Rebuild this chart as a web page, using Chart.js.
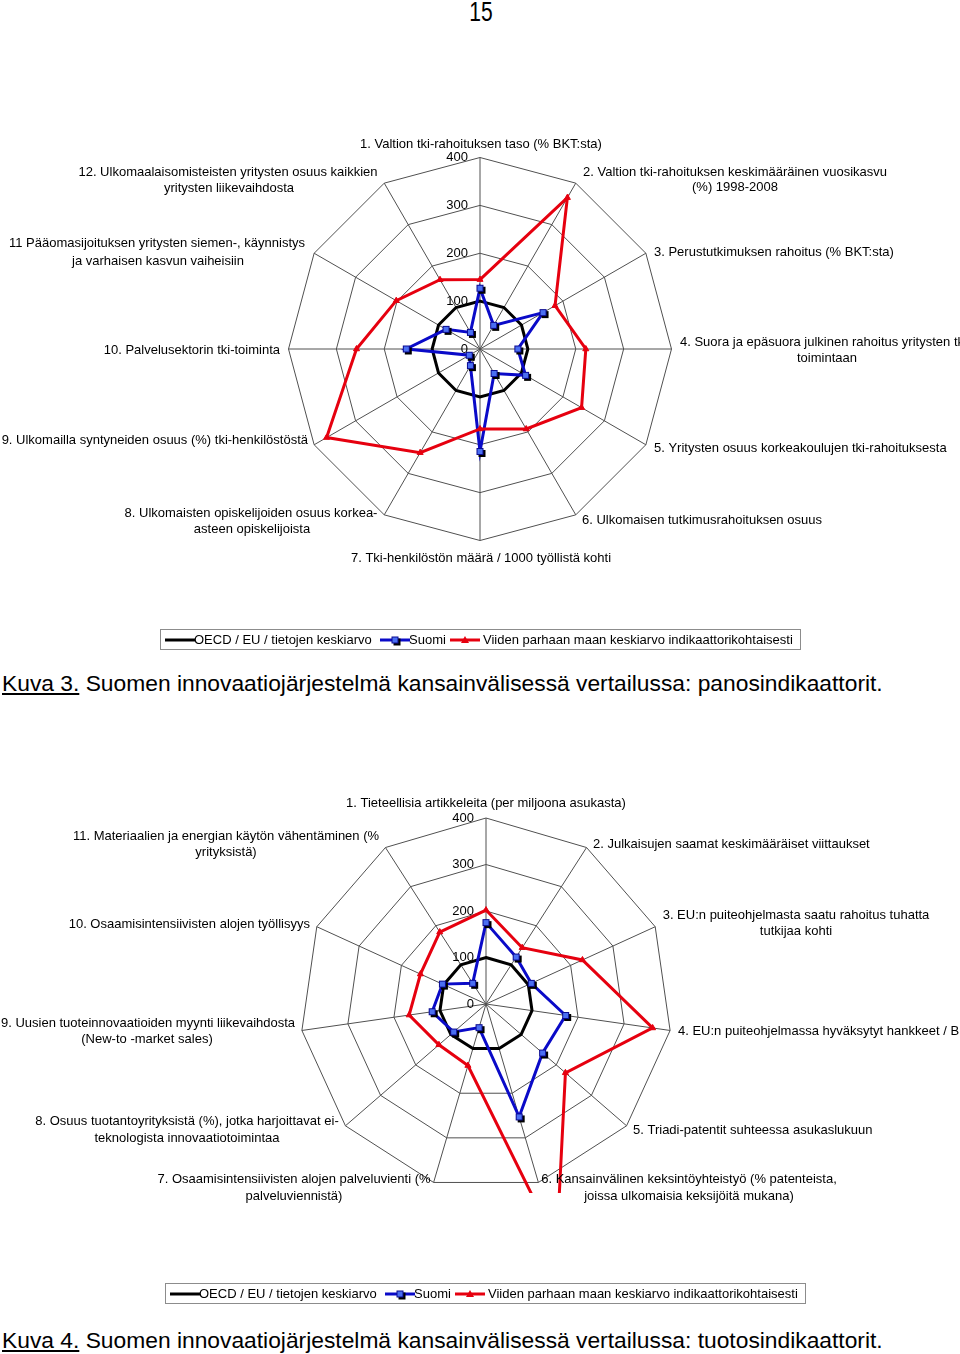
<!DOCTYPE html>
<html><head><meta charset="utf-8">
<script src="https://cdn.jsdelivr.net/npm/chart.js@4"></script>
<style>
html,body{margin:0;padding:0;background:#fff;}
body{width:960px;height:1354px;position:relative;overflow:hidden;font-family:"Liberation Sans",Arial,sans-serif;color:#000;}
#pageno{position:absolute;left:0;width:962px;top:-3px;text-align:center;font-family:"Liberation Sans",Arial,sans-serif;font-size:27px;line-height:30px;transform:scaleX(0.78);transform-origin:481px 0;}
canvas.chart{position:absolute;left:0;}
.legend{position:absolute;width:641px;height:21px;box-sizing:border-box;border:1px solid #8c8c8c;font-size:13px;}
.legend .it{position:absolute;top:0;line-height:19px;white-space:nowrap;}
.legend canvas{position:absolute;top:1px;}
.caption{position:absolute;left:2px;font-size:22.8px;white-space:nowrap;line-height:24px;}
.caption u{text-decoration:underline;}
</style></head><body>
<div id="pageno">15</div>
<canvas id="c1" class="chart" width="960" height="440" style="top:130px"></canvas>
<div id="leg1" class="legend" style="left:160px;top:629px"></div>
<div class="caption" style="top:671px"><u>Kuva 3.</u> Suomen innovaatiojärjestelmä kansainvälisessä vertailussa: panosindikaattorit.</div>
<canvas id="c2" class="chart" width="960" height="415" style="top:790px"></canvas>
<div id="leg2" class="legend" style="left:165px;top:1283px"></div>
<div class="caption" style="top:1328px"><u>Kuva 4.</u> Suomen innovaatiojärjestelmä kansainvälisessä vertailussa: tuotosindikaattorit.</div>
<script>
// ---------------- DATA ----------------
const seriesNames = ['OECD / EU / tietojen keskiarvo', 'Suomi', 'Viiden parhaan maan keskiarvo indikaattorikohtaisesti'];

const categories1 = [
  '1. Valtion tki-rahoituksen taso (% BKT:sta)',
  ['2. Valtion tki-rahoituksen keskimääräinen vuosikasvu', '(%) 1998-2008'],
  '3. Perustutkimuksen rahoitus (% BKT:sta)',
  ['4. Suora ja epäsuora julkinen rahoitus yritysten tki-', 'toimintaan'],
  '5. Yritysten osuus korkeakoulujen tki-rahoituksesta',
  '6. Ulkomaisen tutkimusrahoituksen osuus',
  '7. Tki-henkilöstön määrä / 1000 työllistä kohti',
  ['8. Ulkomaisten opiskelijoiden osuus korkea-', 'asteen opiskelijoista'],
  '9. Ulkomailla syntyneiden osuus (%) tki-henkilöstöstä',
  '10. Palvelusektorin tki-toiminta',
  ['11 Pääomasijoituksen yritysten siemen-, käynnistys', 'ja varhaisen kasvun vaiheisiin'],
  ['12. Ulkomaalaisomisteisten yritysten osuus kaikkien', 'yritysten liikevaihdosta']
];
const oecd1  = [100, 100, 100, 100, 100, 100, 100, 100, 100, 100, 100, 100];
const suomi1 = [127, 57, 152, 79, 110, 59, 214, 40, 26, 154, 82, 40];
const top5_1 = [145, 365, 181, 221, 245, 193, 167, 250, 370, 258, 202, 167];

const categories2 = [
  '1. Tieteellisia artikkeleita (per miljoona asukasta)',
  '2. Julkaisujen saamat keskimääräiset viittaukset',
  ['3. EU:n puiteohjelmasta saatu rahoitus tuhatta', 'tutkijaa kohti'],
  '4. EU:n puiteohjelmassa hyväksytyt hankkeet / BKT',
  '5. Triadi-patentit suhteessa asukaslukuun',
  ['6. Kansainvälinen keksintöyhteistyö (% patenteista,', 'joissa ulkomaisia keksijöitä mukana)'],
  ['7. Osaamisintensiivisten alojen palveluvienti (%', 'palveluviennistä)'],
  ['8. Osuus tuotantoyrityksistä (%), jotka harjoittavat ei-', 'teknologista innovaatiotoimintaa'],
  ['9. Uusien tuoteinnovaatioiden myynti liikevaihdosta', '(New-to -market sales)'],
  '10. Osaamisintensiivisten alojen työllisyys',
  ['11. Materiaalien ja energian käytön vähentäminen (%', 'yrityksistä)']
];
const oecd2  = [100, 100, 100, 100, 100, 100, 100, 100, 100, 100, 100];
const suomi2 = [175, 120, 107, 173, 161, 253, 53, 92, 117, 103, 53];
const top5_2 = [202, 144, 228, 362, 226, 540, 138, 134, 167, 155, 184];

const axisMin = 0, axisMax = 400, axisStep = 100;

// ---------------- LAYOUT / STYLE ----------------
const COLORS = ['#000000', '#0a0ac8', '#e6000f'];
const FONT = '13px "Liberation Sans", Arial, sans-serif';
// point label line anchors [x, y, align] in canvas coordinates
const labelPos1 = [
  [[481, 14, 'center']],
  [[735, 42, 'center'], [735, 57, 'center']],
  [[654, 122, 'left']],
  [[680, 212, 'left'], [827, 228, 'center']],
  [[654, 318, 'left']],
  [[582, 390, 'left']],
  [[481, 428, 'center']],
  [[251, 383, 'center'], [252, 399, 'center']],
  [[308, 310, 'right']],
  [[280, 220, 'right']],
  [[157, 113, 'center'], [158, 131, 'center']],
  [[228, 42, 'center'], [229, 58, 'center']]
];
const labelPos2 = [
  [[486, 13, 'center']],
  [[593, 54, 'left']],
  [[796, 125, 'center'], [796, 141, 'center']],
  [[678, 241, 'left']],
  [[633, 340, 'left']],
  [[689, 389, 'center'], [689, 406, 'center']],
  [[294, 389, 'center'], [294, 406, 'center']],
  [[187, 331, 'center'], [187, 348, 'center']],
  [[148, 233, 'center'], [147, 249, 'center']],
  [[310, 134, 'right']],
  [[226, 46, 'center'], [226, 62, 'center']]
];

function squareMarker(){
  const c = document.createElement('canvas'); c.width = 15; c.height = 15;
  const x = c.getContext('2d');
  x.fillStyle = '#000'; x.fillRect(6, 6, 7, 7);
  x.fillStyle = '#4a6ef2'; x.fillRect(4, 4, 7, 7);
  x.strokeStyle = '#0a0a90'; x.lineWidth = 1; x.strokeRect(4.5, 4.5, 6, 6);
  return c;
}
const SQ = squareMarker();

const geomPlugin = {
  id: 'geom',
  afterLayout(chart, args, o){
    const s = chart.scales.r;
    s.xCenter = o.cx; s.yCenter = o.cy; s.drawingArea = o.R;
  },
  beforeDatasetsDraw(chart, args, o){
    const ctx = chart.ctx; ctx.save();
    if (o.clipY){ ctx.beginPath(); ctx.rect(0, 0, chart.width, o.clipY); ctx.clip(); }
  },
  afterDatasetsDraw(chart, args, o){
    const ctx = chart.ctx; ctx.restore();
    const s = chart.scales.r;
    ctx.save();
    ctx.font = FONT; ctx.fillStyle = '#000'; ctx.textAlign = 'right'; ctx.textBaseline = 'middle';
    s.ticks.forEach(t => {
      const d = s.getDistanceFromCenterForValue(t.value);
      ctx.fillText(String(t.value), s.xCenter - 12, s.yCenter - d);
    });
    ctx.restore();
  },
  afterDraw(chart, args, o){
    const ctx = chart.ctx;
    ctx.save();
    ctx.font = FONT; ctx.fillStyle = '#000'; ctx.textBaseline = 'middle';
    chart.data.labels.forEach((lab, i) => {
      const lines = Array.isArray(lab) ? lab : [lab];
      lines.forEach((ln, j) => {
        const p = o.labels[i][j];
        ctx.textAlign = p[2];
        ctx.fillText(ln, p[0], p[1]);
      });
    });
    ctx.restore();
  }
};

function makeChart(id, cats, d0, d1, d2, geom){
  return new Chart(document.getElementById(id), {
    type: 'radar',
    data: {
      labels: cats,
      datasets: [
        {label: seriesNames[0], data: d0, borderColor: COLORS[0], borderWidth: 3, pointRadius: 0, fill: false, order: 3},
        {label: seriesNames[1], data: d1, borderColor: COLORS[1], borderWidth: 3, pointStyle: SQ, pointRadius: 4, fill: false, order: 2},
        {label: seriesNames[2], data: d2, borderColor: COLORS[2], backgroundColor: COLORS[2], borderWidth: 3, pointStyle: 'triangle', pointRadius: 3.5, pointBorderWidth: 1, pointBackgroundColor: COLORS[2], pointBorderColor: COLORS[2], fill: false, order: 1}
      ]
    },
    options: {
      responsive: false,
      animation: false,
      layout: {padding: 0},
      elements: {line: {tension: 0}},
      plugins: {legend: {display: false}, tooltip: {enabled: false}, geom: geom},
      scales: {
        r: {
          min: axisMin, max: axisMax,
          ticks: {stepSize: axisStep, display: false},
          pointLabels: {display: false},
          grid: {color: '#505050', lineWidth: 1},
          angleLines: {color: '#505050', lineWidth: 1}
        }
      }
    },
    plugins: [geomPlugin]
  });
}

makeChart('c1', categories1, oecd1, suomi1, top5_1, {cx: 480, cy: 219, R: 191.5, clipY: 0, labels: labelPos1});
makeChart('c2', categories2, oecd2, suomi2, top5_2, {cx: 486, cy: 214, R: 186, clipY: 403, labels: labelPos2});

// ---------------- LEGENDS ----------------
function legendMarker(kind, color){
  const c = document.createElement('canvas'); c.width = 30; c.height = 18;
  const x = c.getContext('2d');
  x.strokeStyle = color; x.lineWidth = 3;
  x.beginPath(); x.moveTo(0, 9); x.lineTo(30, 9); x.stroke();
  if (kind === 'square') x.drawImage(SQ, 15 - 7.5, 9 - 7.5);
  if (kind === 'triangle'){
    x.fillStyle = color; x.beginPath(); x.moveTo(15, 5); x.lineTo(19, 12); x.lineTo(11, 12); x.closePath(); x.fill();
  }
  return c;
}
const legendSlots = [{m: 4, t: 33}, {m: 219, t: 248}, {m: 289, t: 322}];
const legendKinds = ['none', 'square', 'triangle'];
['leg1', 'leg2'].forEach(id => {
  const box = document.getElementById(id);
  seriesNames.forEach((name, i) => {
    const m = legendMarker(legendKinds[i], COLORS[i]);
    m.style.left = legendSlots[i].m + 'px';
    box.appendChild(m);
    const t = document.createElement('span');
    t.className = 'it'; t.textContent = name; t.style.left = legendSlots[i].t + 'px';
    box.appendChild(t);
  });
});
</script>
</body></html>
